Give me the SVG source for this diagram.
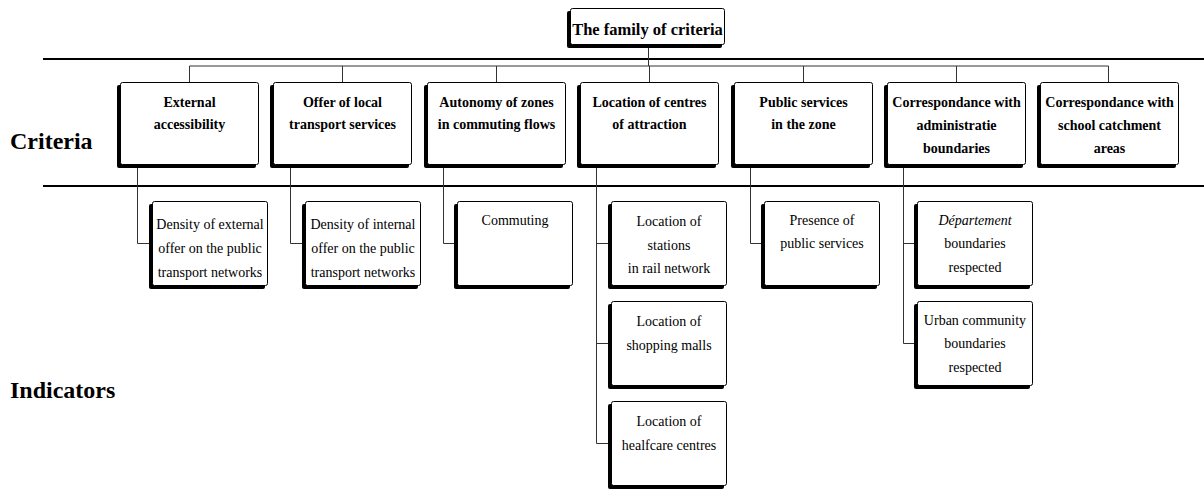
<svg xmlns="http://www.w3.org/2000/svg" width="1204" height="504" viewBox="0 0 1204 504">
<style>
.sh{fill:#000}
.bx{fill:#fff;stroke:#000;stroke-width:1}
.sep{stroke:#000;stroke-width:2;fill:none}
.cn{stroke:#333;stroke-width:1;fill:none}
.ct{font-family:"Liberation Serif","Times New Roman",serif;font-weight:bold;font-size:14px;text-anchor:middle;fill:#000}
.it{font-family:"Liberation Serif","Times New Roman",serif;font-size:14px;text-anchor:middle;fill:#000}
.lb{font-family:"Liberation Serif","Times New Roman",serif;font-weight:bold;font-size:24px;fill:#000}
</style>
<rect width="1204" height="504" fill="#fff"/>
<g id="separators">
<line class="sep" x1="43" y1="59" x2="1204" y2="59"/>
<line class="sep" x1="43" y1="186" x2="1204" y2="186"/>
</g>
<g id="connectors">
<path class="cn" d="M648.5 48V66M189.5 66H1108.5"/>
<path class="cn" d="M189.5 66V82M342.5 66V82M496.5 66V82M649.5 66V82M803.5 66V82M956.5 66V82M1108.5 66V82"/>
<path class="cn" d="M137.5 165V243.5H152"/>
<path class="cn" d="M290.5 165V243.5H305"/>
<path class="cn" d="M443.5 165V243.5H457"/>
<path class="cn" d="M596.5 165V443.5H611M596.5 243.5H611M596.5 343.5H611"/>
<path class="cn" d="M750.5 165V243.5H764"/>
<path class="cn" d="M903.5 165V343.5H917M903.5 243.5H917"/>
</g>
<text class="lb" x="10" y="149">Criteria</text>
<text class="lb" x="10" y="398">Indicators</text>
<g id="root">
<rect class="sh" x="567" y="11" width="155" height="37" rx="2"/>
<rect class="bx" x="570.5" y="8.5" width="154" height="36" rx="2"/>
<text class="ct" x="647.5" y="35" style="font-size:16.5px">The family of criteria</text>
</g>
<g id="c1"><rect class="sh" x="117" y="85" width="139" height="83" rx="2"/><rect class="bx" x="120.5" y="82.5" width="138" height="82" rx="2"/>
<text class="ct" x="189.5" y="107">External</text><text class="ct" x="189.5" y="129">accessibility</text></g>
<g id="c2"><rect class="sh" x="270" y="85" width="139" height="83" rx="2"/><rect class="bx" x="273.5" y="82.5" width="138" height="82" rx="2"/>
<text class="ct" x="342.5" y="107">Offer of local</text><text class="ct" x="342.5" y="129">transport services</text></g>
<g id="c3"><rect class="sh" x="424" y="85" width="139" height="83" rx="2"/><rect class="bx" x="427.5" y="82.5" width="138" height="82" rx="2"/>
<text class="ct" x="496.5" y="107">Autonomy of zones</text><text class="ct" x="496.5" y="129">in commuting flows</text></g>
<g id="c4"><rect class="sh" x="577" y="85" width="139" height="83" rx="2"/><rect class="bx" x="580.5" y="82.5" width="138" height="82" rx="2"/>
<text class="ct" x="649.5" y="107">Location of centres</text><text class="ct" x="649.5" y="129">of attraction</text></g>
<g id="c5"><rect class="sh" x="731" y="85" width="139" height="83" rx="2"/><rect class="bx" x="734.5" y="82.5" width="138" height="82" rx="2"/>
<text class="ct" x="803.5" y="107">Public services</text><text class="ct" x="803.5" y="129">in the zone</text></g>
<g id="c6"><rect class="sh" x="884" y="85" width="139" height="83" rx="2"/><rect class="bx" x="887.5" y="82.5" width="138" height="82" rx="2"/>
<text class="ct" x="956.5" y="107">Correspondance with</text><text class="ct" x="956.5" y="130">administratie</text><text class="ct" x="956.5" y="153">boundaries</text></g>
<g id="c7"><rect class="sh" x="1037" y="85" width="139" height="83" rx="2"/><rect class="bx" x="1040.5" y="82.5" width="138" height="82" rx="2"/>
<text class="ct" x="1109.5" y="107">Correspondance with</text><text class="ct" x="1109.5" y="130">school catchment</text><text class="ct" x="1109.5" y="153">areas</text></g>
<g id="i1"><rect class="sh" x="149" y="204" width="116" height="85" rx="2"/><rect class="bx" x="152.5" y="201.5" width="115" height="84" rx="2"/>
<text class="it" x="210" y="229">Density of external</text><text class="it" x="210" y="253">offer on the public</text><text class="it" x="210" y="277">transport networks</text></g>
<g id="i2"><rect class="sh" x="302" y="204" width="116" height="85" rx="2"/><rect class="bx" x="305.5" y="201.5" width="115" height="84" rx="2"/>
<text class="it" x="363" y="229">Density of internal</text><text class="it" x="363" y="253">offer on the public</text><text class="it" x="363" y="277">transport networks</text></g>
<g id="i3"><rect class="sh" x="454" y="204" width="116" height="85" rx="2"/><rect class="bx" x="457.5" y="201.5" width="115" height="84" rx="2"/>
<text class="it" x="515" y="225">Commuting</text></g>
<g id="i4"><rect class="sh" x="608" y="204" width="116" height="85" rx="2"/><rect class="bx" x="611.5" y="201.5" width="115" height="84" rx="2"/>
<text class="it" x="669" y="226">Location of</text><text class="it" x="669" y="250">stations</text><text class="it" x="669" y="273">in rail network</text></g>
<g id="i5"><rect class="sh" x="608" y="304" width="116" height="85" rx="2"/><rect class="bx" x="611.5" y="301.5" width="115" height="84" rx="2"/>
<text class="it" x="669" y="326">Location of</text><text class="it" x="669" y="350">shopping malls</text></g>
<g id="i6"><rect class="sh" x="608" y="404" width="116" height="85" rx="2"/><rect class="bx" x="611.5" y="401.5" width="115" height="84" rx="2"/>
<text class="it" x="669" y="426">Location of</text><text class="it" x="669" y="450">healfcare centres</text></g>
<g id="i7"><rect class="sh" x="761" y="204" width="116" height="85" rx="2"/><rect class="bx" x="764.5" y="201.5" width="115" height="84" rx="2"/>
<text class="it" x="822" y="225">Presence of</text><text class="it" x="822" y="248">public services</text></g>
<g id="i8"><rect class="sh" x="914" y="204" width="116" height="85" rx="2"/><rect class="bx" x="917.5" y="201.5" width="115" height="84" rx="2"/>
<text class="it" x="975" y="225" font-style="italic">Département</text><text class="it" x="975" y="248">boundaries</text><text class="it" x="975" y="272">respected</text></g>
<g id="i9"><rect class="sh" x="914" y="304" width="116" height="85" rx="2"/><rect class="bx" x="917.5" y="301.5" width="115" height="84" rx="2"/>
<text class="it" x="975" y="325">Urban community</text><text class="it" x="975" y="348">boundaries</text><text class="it" x="975" y="372">respected</text></g>
</svg>
